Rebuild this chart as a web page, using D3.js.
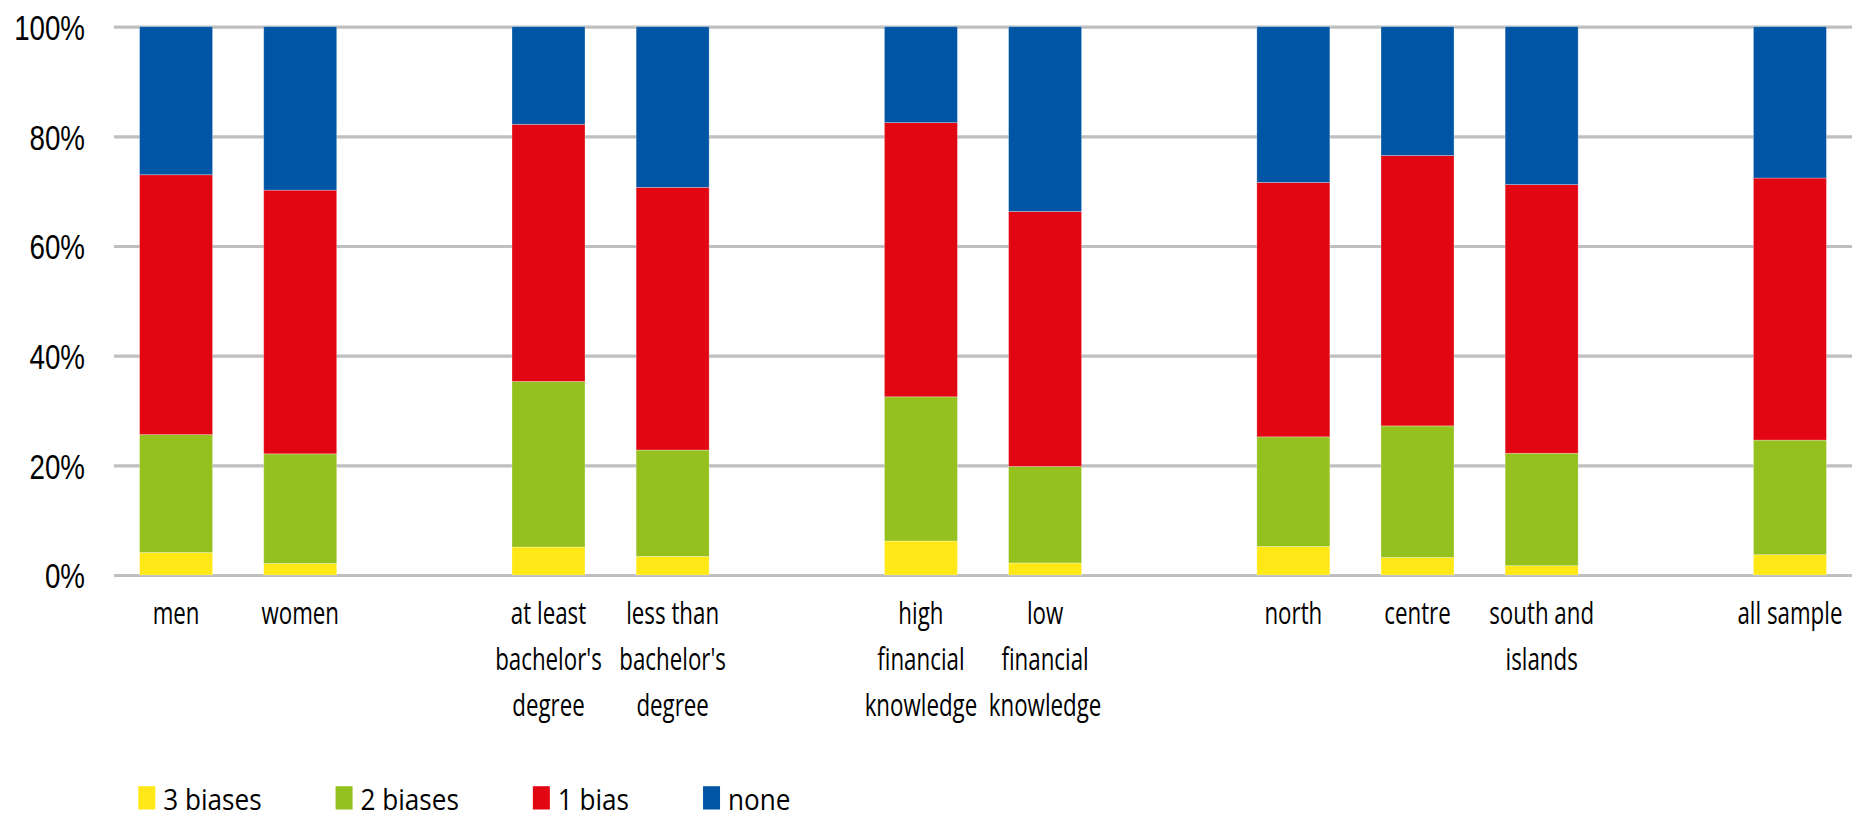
<!DOCTYPE html>
<html>
<head>
<meta charset="utf-8">
<script src="https://cdn.jsdelivr.net/npm/d3@7"></script>
<style>
  html, body { margin: 0; padding: 0; background: #fff; }
  svg { display: block; font-family: "Open Sans", "Noto Sans", sans-serif; }
</style>
</head>
<body>
<svg id="chart" width="1861" height="818"></svg>
<script>
// Share of respondents by number of behavioural biases
const categories = ["men", "women", "at least bachelor's degree", "less than bachelor's degree",
  "high financial knowledge", "low financial knowledge", "north", "centre", "south and islands", "all sample"];
const categoryLines = [["men"], ["women"], ["at least", "bachelor's", "degree"], ["less than", "bachelor's", "degree"],
  ["high", "financial", "knowledge"], ["low", "financial", "knowledge"], ["north"], ["centre"], ["south and", "islands"], ["all sample"]];
// an empty slot follows each of these category indices
const gapAfter = [1, 3, 5, 8];

const seriesNames = ["3 biases", "2 biases", "1 bias", "none"];
const seriesColors = ["#ffe815", "#95c11f", "#e20613", "#0055a4"];

const threeBiases = [4.1, 2.1, 5.1, 3.4, 6.2, 2.2, 5.2, 3.2, 1.7, 3.7];
const twoBiases   = [21.5, 20.0, 30.2, 19.4, 26.3, 17.6, 20.0, 24.0, 20.5, 20.9];
const oneBias     = [47.4, 48.1, 46.9, 47.9, 50.0, 46.5, 46.4, 49.3, 49.0, 47.8];
const noBias      = [27.0, 29.8, 17.8, 29.3, 17.5, 33.7, 28.4, 23.5, 28.8, 27.6];

const yTicks = [0, 20, 40, 60, 80, 100];

const seriesValues = [threeBiases, twoBiases, oneBias, noBias];

// slot positions (categories plus blank separators)
const slotOf = [];
let s = 0;
categories.forEach((c, i) => {
  slotOf.push(s);
  s += 1;
  if (gapAfter.includes(i)) s += 1;
});
const nSlots = s;

const rows = categories.map((c, i) => {
  const r = { category: c, slot: slotOf[i] };
  seriesNames.forEach((k, j) => { r[k] = seriesValues[j][i]; });
  return r;
});

const svg = d3.select("#chart");
const plotLeft = 114, plotRight = 1852, plotTop = 26.7, plotBottom = 575;

const x = d3.scaleBand()
  .domain(d3.range(nSlots))
  .range([plotLeft, plotRight])
  .paddingInner(0.412)
  .paddingOuter(0.206);

const y = d3.scaleLinear().domain([0, 100]).range([plotBottom, plotTop]);

// gridlines and percentage labels
const tickScale = 0.77;
const yAxis = d3.axisLeft(y)
  .tickValues(yTicks)
  .tickSize(-(plotRight - plotLeft))
  .tickPadding(29)
  .tickFormat(d => d + "%");

const gAxis = svg.append("g")
  .attr("transform", `translate(${plotLeft},0)`)
  .call(yAxis);
gAxis.select(".domain").remove();
gAxis.selectAll(".tick line").attr("stroke", "#bfbfbf").attr("stroke-width", 3.2);
gAxis.selectAll(".tick text")
  .attr("fill", "#000")
  .attr("font-size", 36)
  .attr("x", -29 / tickScale)
  .attr("dy", "0.36em")
  .attr("transform", `scale(${tickScale},1)`);

// stacked bars
const stack = d3.stack().keys(seriesNames);
const layers = stack(rows);

svg.append("g").selectAll("g")
  .data(layers)
  .join("g")
  .attr("fill", (d, i) => seriesColors[i])
  .selectAll("rect")
  .data(d => d)
  .join("rect")
  .attr("x", d => x(d.data.slot))
  .attr("width", x.bandwidth())
  .attr("y", d => y(d[1]))
  .attr("height", d => y(d[0]) - y(d[1]))
  .attr("stroke", "#ffffff")
  .attr("stroke-opacity", 0.35)
  .attr("stroke-width", 0.8);

// category labels
const labelScale = 0.72;
const lineGap = 46;
const labels = svg.append("g");
rows.forEach((r, i) => {
  const cx = x(r.slot) + x.bandwidth() / 2;
  categoryLines[i].forEach((line, j) => {
    labels.append("text")
      .attr("transform", `translate(${cx},${623.5 + j * lineGap}) scale(${labelScale},1)`)
      .attr("text-anchor", "middle")
      .attr("font-size", 31)
      .attr("fill", "#000")
      .text(line);
  });
});

// legend
const legendScale = 0.87;
const legendBase = 809.5;
const legend = svg.append("g");
let lx = 138.3;
seriesNames.forEach((name, i) => {
  legend.append("rect")
    .attr("x", lx).attr("y", legendBase - 23.3)
    .attr("width", 17).attr("height", 23.3)
    .attr("fill", seriesColors[i]);
  const t = legend.append("text")
    .attr("transform", `translate(${lx + 25},${legendBase}) scale(${legendScale},1)`)
    .attr("font-size", 30)
    .attr("fill", "#000")
    .text(name);
  const w = t.node().getComputedTextLength() * legendScale;
  lx += 25 + w + 74;
});
</script>
</body>
</html>
